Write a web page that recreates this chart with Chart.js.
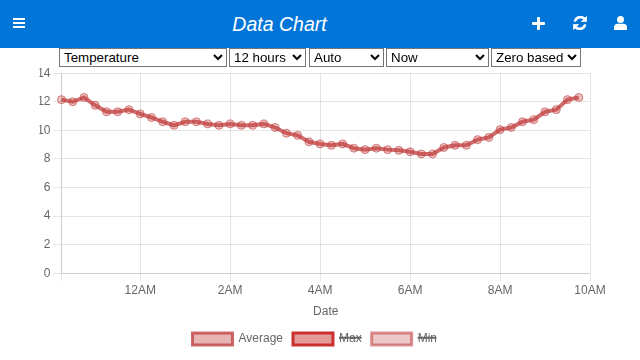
<!DOCTYPE html>
<html>
<head>
<meta charset="utf-8">
<title>Data Chart</title>
<script src="https://cdn.jsdelivr.net/npm/chart.js@4"></script>
<style>
html, body { margin: 0; padding: 0; background: #fff; overflow: hidden; }
body { width: 640px; height: 360px; font-family: "Liberation Sans", Arial, sans-serif; position: relative; }
.bar { position: absolute; left: 0; top: 0; width: 640px; height: 48px; background: #0275d8; color: #fff; }
.bar h1 { position: absolute; left: 0; width: 559px; top: 12px; margin: 0; text-align: center; font-size: 19.5px; line-height: 24px; font-weight: normal; font-style: italic; }
.bar svg { position: absolute; fill: #fff; }
select { position: absolute; top: 48px; height: 19px; box-sizing: border-box; font: 13.33px "Liberation Sans", Arial, sans-serif; background: #fff; color: #000; padding: 0; z-index: 2; }
.wrap { position: absolute; left: 0; top: 63px; width: 638px; height: 292px; }
</style>
</head>
<body>
<div class="bar">
  <svg style="left:13px;top:18px" width="12" height="12" viewBox="0 0 12 12"><rect y="0" width="12" height="2"/><rect y="4" width="12" height="2"/><rect y="8" width="12" height="2"/></svg>
  <h1>Data Chart</h1>
  <svg style="left:532px;top:17px" width="13" height="13" viewBox="0 0 13 13"><rect x="5" y="0" width="3" height="13" rx="1"/><rect x="0" y="5" width="13" height="3" rx="1"/></svg>
  <svg style="left:573px;top:16px;stroke:#fff;stroke-width:.8" width="14" height="14" viewBox="0 0 14 14"><path d="M13.5 0.5v5h-5l2-2A4.4 4.4 0 0 0 3 5.2H1A6.4 6.4 0 0 1 12 2zM0.5 13.5v-5h5l-2 2a4.4 4.4 0 0 0 7.5-1.7h2A6.4 6.4 0 0 1 2 12z"/></svg>
  <svg style="left:614px;top:16px" width="13" height="14" viewBox="0 0 13 14"><circle cx="6.5" cy="3.6" r="3.5"/><path d="M0 14v-2.5A3.8 3.8 0 0 1 3.8 7.7h5.4A3.8 3.8 0 0 1 13 11.5V14z"/></svg>
</div>
<select style="left:59px;width:168px"><option>Temperature</option></select>
<select style="left:229px;width:77px"><option>12 hours</option></select>
<select style="left:309px;width:75px"><option>Auto</option></select>
<select style="left:386px;width:103px"><option>Now</option></select>
<select style="left:491px;width:90px"><option>Zero based</option></select>
<div class="wrap"><canvas id="dataChart" width="638" height="292"></canvas></div>
<script>
// hours relative to midnight, one reading every 15 minutes
const hours = [-1.75, -1.5, -1.25, -1, -0.75, -0.5, -0.25, 0, 0.25, 0.5, 0.75, 1, 1.25, 1.5, 1.75, 2,
    2.25, 2.5, 2.75, 3, 3.25, 3.5, 3.75, 4, 4.25, 4.5, 4.75, 5, 5.25, 5.5, 5.75, 6,
    6.25, 6.5, 6.75, 7, 7.25, 7.5, 7.75, 8, 8.25, 8.5, 8.75, 9, 9.25, 9.5, 9.75];
const average = [12.15, 12.0, 12.3, 11.75, 11.3, 11.3, 11.45, 11.15, 10.9, 10.6, 10.35, 10.6, 10.6, 10.45, 10.35, 10.45,
    10.35, 10.35, 10.45, 10.2, 9.8, 9.65, 9.2, 9.05, 8.95, 9.05, 8.75, 8.65, 8.75, 8.65, 8.6, 8.5,
    8.35, 8.35, 8.8, 8.95, 8.95, 9.35, 9.5, 10.05, 10.2, 10.6, 10.75, 11.3, 11.45, 12.15, 12.3];
// Max and Min are switched off in the legend, so nothing can be read for them
const max = [];
const min = [];
const tickHours = [0, 2, 4, 6, 8, 10];
const tickLabels = ['12AM', '2AM', '4AM', '6AM', '8AM', '10AM'];

function points(values) {
    return values.map(function(v, i) { return { x: hours[i], y: v }; });
}

Chart.defaults.font.family = '"Liberation Sans", Arial, sans-serif';
Chart.defaults.font.size = 12;
Chart.defaults.color = '#666';

const defaultLabels = Chart.defaults.plugins.legend.labels.generateLabels;

new Chart(document.getElementById('dataChart').getContext('2d'), {
    type: 'line',
    data: {
        datasets: [{
            label: 'Average',
            data: points(average),
            borderColor: 'rgba(192,57,57,0.75)',
            backgroundColor: 'rgba(192,57,57,0.38)',
            pointBackgroundColor: 'rgba(192,57,57,0.3)',
            pointBorderColor: 'rgba(192,57,57,0.6)',
            borderWidth: 4,
            pointRadius: 4,
            pointBorderWidth: 1,
            fill: false,
            tension: 0,
            clip: false
        }, {
            label: 'Max',
            data: points(max),
            hidden: true,
            borderColor: 'rgba(200,40,40,0.95)',
            backgroundColor: 'rgba(200,40,40,0.47)',
            borderWidth: 3
        }, {
            label: 'Min',
            data: points(min),
            hidden: true,
            borderColor: 'rgba(192,57,57,0.55)',
            backgroundColor: 'rgba(192,57,57,0.28)',
            borderWidth: 3
        }]
    },
    options: {
        responsive: false,
        animation: false,
        layout: { padding: { left: 39.5, right: 48 } },
        plugins: {
            legend: {
                position: 'bottom',
                labels: {
                    // legend boxes keep a 3px edge, thinner than the plotted line
                    generateLabels: function(chart) {
                        return defaultLabels(chart).map(function(item) {
                            item.lineWidth = 3;
                            return item;
                        });
                    }
                }
            },
            tooltip: { enabled: false }
        },
        scales: {
            x: {
                type: 'linear',
                min: hours[0],
                max: 10,
                title: { display: true, text: 'Date' },
                ticks: {
                    stepSize: 2,
                    padding: 2.5,
                    maxRotation: 0,
                    autoSkip: false,
                    callback: function(value) {
                        const i = tickHours.indexOf(value);
                        return i < 0 ? '' : tickLabels[i];
                    }
                }
            },
            y: {
                beginAtZero: true,
                min: 0,
                max: 14,
                ticks: { stepSize: 2 },
                afterFit: function(scale) {
                    scale.width = 22;
                }
            }
        }
    }
});
</script>
</body>
</html>
